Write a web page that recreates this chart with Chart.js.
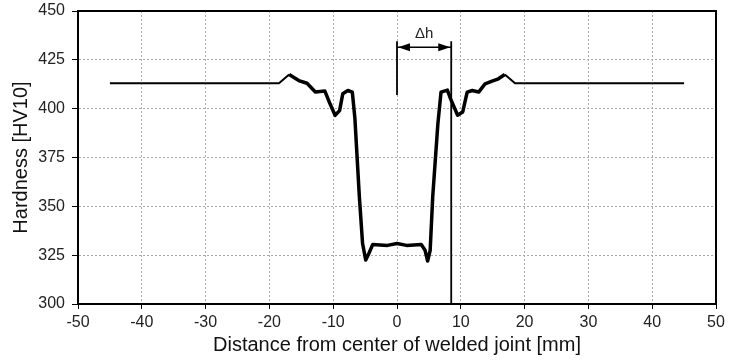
<!DOCTYPE html>
<html>
<head>
<meta charset="utf-8">
<script src="https://cdn.jsdelivr.net/npm/chart.js@4.4.0/dist/chart.umd.min.js"></script>
<style>
    html, body { margin: 0; padding: 0; background: #fff; }
</style>
</head>
<body>
<canvas id="hardness-chart" width="731" height="360"></canvas>
<script>
// hardness profile across the welded joint
const distance = [-45, -18.5, -16.9, -15.4, -14.1, -12.8, -11.3, -10.5, -9.7, -9.0, -8.5, -7.7, -7.0, -6.6, -5.9, -5.4, -4.9, -4.4, -3.8, -1.5, 0, 1.5, 3.8, 4.4, 4.8, 5.2, 5.6, 6.4, 6.9, 7.9, 8.4, 9.5, 10.3, 11.0, 11.8, 12.8, 13.8, 14.9, 15.9, 16.9, 18.5, 45];
const hardness = [413, 413, 417.5, 414.4, 413, 408.5, 409, 402.5, 396.6, 399, 407.6, 409.3, 408.5, 395, 355, 331, 322.5, 326, 330.5, 330, 331, 330, 330.5, 327.5, 322, 327.5, 355, 392, 408.5, 409.5, 405, 396.6, 398.3, 408.5, 409.3, 408.5, 412.7, 414.1, 415.3, 417.5, 413, 413];

// axis ticks
const xTicks = [-50, -40, -30, -20, -10, 0, 10, 20, 30, 40, 50];
const yTicks = [300, 325, 350, 375, 400, 425, 450];

// delta h marker
const deltaLeft = 0;
const deltaRight = 8.5;
const deltaTop = 434.5;
const deltaLeftBottom = 407;
const deltaRightBottom = 300;
const arrowLevel = 431.5;
const labelLevel = 438.5;
const deltaLabel = "Δh";

const fontFamily = '"Liberation Sans", Arial, sans-serif';

const frame = {
    id: 'frame',
    afterDatasetsDraw(chart) {
        const {ctx, chartArea: a, scales: {x, y}} = chart;
        ctx.save();
        // arrow between the two marker lines
        const x0 = x.getPixelForValue(deltaLeft);
        const x1 = x.getPixelForValue(deltaRight);
        const ay = y.getPixelForValue(arrowLevel);
        ctx.strokeStyle = '#000';
        ctx.fillStyle = '#000';
        ctx.lineWidth = 1.5;
        ctx.beginPath();
        ctx.moveTo(x0, ay);
        ctx.lineTo(x1, ay);
        ctx.stroke();
        [[x0, 1], [x1, -1]].forEach(([px, dir]) => {
            ctx.beginPath();
            ctx.moveTo(px + dir, ay);
            ctx.lineTo(px + dir * 13, ay - 4);
            ctx.lineTo(px + dir * 13, ay + 4);
            ctx.closePath();
            ctx.fill();
        });
        ctx.font = '15px ' + fontFamily;
        ctx.fillStyle = '#222';
        ctx.textAlign = 'center';
        ctx.textBaseline = 'middle';
        ctx.fillText(deltaLabel, (x0 + x1) / 2, y.getPixelForValue(labelLevel));
        // box around plot
        ctx.lineWidth = 2;
        ctx.strokeStyle = '#000';
        ctx.strokeRect(a.left, a.top, a.right - a.left, a.bottom - a.top);
        ctx.restore();
    }
};

const ctx = document.getElementById('hardness-chart').getContext('2d');

new Chart(ctx, {
    type: 'line',
    data: {
        datasets: [{
            label: 'Hardness',
            data: distance.map((d, i) => ({x: d, y: hardness[i]})),
            borderColor: '#000',
            borderWidth: 3.5,
            pointRadius: 0,
            tension: 0,
            borderJoinStyle: 'round',
            segment: {
                borderWidth: c => (c.p0.parsed.x < -18 || c.p1.parsed.x > 18) ? 2 : 3.5
            }
        }, {
            label: 'left marker',
            data: [{x: deltaLeft, y: deltaTop}, {x: deltaLeft, y: deltaLeftBottom}],
            borderColor: '#000',
            borderWidth: 1.8,
            pointRadius: 0
        }, {
            label: 'right marker',
            data: [{x: deltaRight, y: deltaTop}, {x: deltaRight, y: deltaRightBottom}],
            borderColor: '#000',
            borderWidth: 1.8,
            pointRadius: 0
        }]
    },
    options: {
        responsive: false,
        animation: false,
        layout: {
            padding: {left: 0, right: 15, top: 11, bottom: 0}
        },
        plugins: {
            legend: {display: false},
            tooltip: {enabled: false}
        },
        scales: {
            x: {
                type: 'linear',
                min: -50,
                max: 50,
                afterBuildTicks: s => { s.ticks = xTicks.map(v => ({value: v})); },
                afterFit: s => {
                    s.height = 56;
                    s.paddingLeft = 0;
                    s.paddingRight = 0;
                },
                grid: {
                    color: '#aaa',
                    lineWidth: 1,
                    tickColor: '#000',
                    tickLength: 5,
                    tickBorderDash: []
                },
                border: {
                    color: '#000',
                    width: 2,
                    dash: [2, 2]
                },
                ticks: {
                    color: '#222',
                    padding: 4,
                    maxRotation: 0,
                    font: {size: 16, family: fontFamily}
                },
                title: {
                    display: true,
                    text: 'Distance from center of welded joint [mm]',
                    color: '#111',
                    padding: {top: 0, bottom: 3},
                    font: {size: 20, family: fontFamily}
                }
            },
            y: {
                min: 300,
                max: 450,
                afterBuildTicks: s => { s.ticks = yTicks.map(v => ({value: v})); },
                afterFit: s => {
                    s.width = 78;
                    s.paddingTop = 0;
                    s.paddingBottom = 0;
                },
                grid: {
                    color: '#aaa',
                    lineWidth: 1,
                    tickColor: '#000',
                    tickLength: 6,
                    tickBorderDash: []
                },
                border: {
                    color: '#000',
                    width: 2,
                    dash: [2, 2]
                },
                ticks: {
                    color: '#222',
                    padding: 7,
                    font: {size: 16, family: fontFamily}
                },
                title: {
                    display: true,
                    text: 'Hardness [HV10]',
                    color: '#111',
                    padding: {top: 9, bottom: 0},
                    font: {size: 20, family: fontFamily}
                }
            }
        }
    },
    plugins: [frame]
});
</script>
</body>
</html>
